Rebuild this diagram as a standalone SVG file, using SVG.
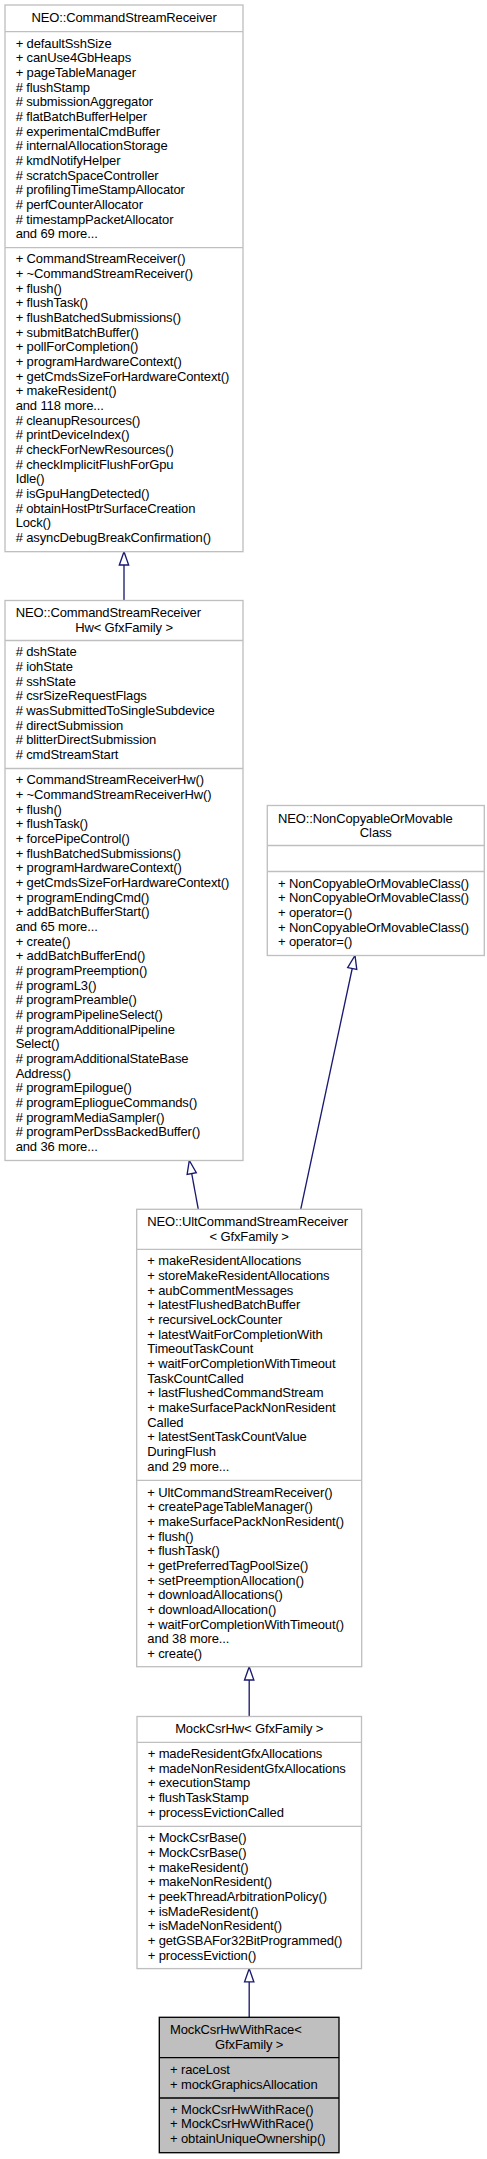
<svg xmlns="http://www.w3.org/2000/svg" width="487" height="2159" viewBox="0 0 487 2159">
<style>
text{font-family:"Liberation Sans",Arial,Helvetica,sans-serif;font-size:13px;letter-spacing:-0.13px;fill:#000}
.m{text-anchor:middle}
.box{fill:#fff;stroke:#bfbfbf;stroke-width:1.33}
.sep{stroke:#bfbfbf;stroke-width:1.33}
.hbox{fill:#bfbfbf;stroke:#000;stroke-width:1.33}
.hsep{stroke:#000;stroke-width:1.33}
.edge{stroke:#191970;stroke-width:1.33;fill:none}
</style>
<defs>
<marker id="tri" markerUnits="userSpaceOnUse" viewBox="-2 -7 17 14" refX="13.33" refY="0" markerWidth="17" markerHeight="14" orient="auto">
<path d="M0,-4.67 L13.33,0 L0,4.67 Z" fill="#fff" stroke="#191970" stroke-width="1.33"/>
</marker>
</defs>
<rect width="487" height="2159" fill="#fff"/>

<g id="connectors">
<path class="edge" d="M124,600.5 L124,551.67" marker-end="url(#tri)"/>
<path class="edge" d="M198.3,1209.3 L189.3,1160.5" marker-end="url(#tri)"/>
<path class="edge" d="M300.7,1209.3 L355,955.5" marker-end="url(#tri)"/>
<path class="edge" d="M249.2,1716.5 L249.2,1666.7" marker-end="url(#tri)"/>
<path class="edge" d="M249.2,2017.3 L249.2,1968.6" marker-end="url(#tri)"/>
</g>

<g id="csr">
<rect class="box" x="5" y="5" width="238" height="546.67"/>
<line class="sep" x1="5" y1="31.67" x2="243" y2="31.67"/>
<line class="sep" x1="5" y1="247.67" x2="243" y2="247.67"/>
<text class="m" x="124" y="21.5">NEO::CommandStreamReceiver</text>
<text x="15.67" y="47.5"><tspan x="15.67">+ defaultSshSize</tspan><tspan x="15.67" dy="14.667">+ canUse4GbHeaps</tspan><tspan x="15.67" dy="14.667">+ pageTableManager</tspan><tspan x="15.67" dy="14.667"># flushStamp</tspan><tspan x="15.67" dy="14.667"># submissionAggregator</tspan><tspan x="15.67" dy="14.667"># flatBatchBufferHelper</tspan><tspan x="15.67" dy="14.667"># experimentalCmdBuffer</tspan><tspan x="15.67" dy="14.667"># internalAllocationStorage</tspan><tspan x="15.67" dy="14.667"># kmdNotifyHelper</tspan><tspan x="15.67" dy="14.667"># scratchSpaceController</tspan><tspan x="15.67" dy="14.667"># profilingTimeStampAllocator</tspan><tspan x="15.67" dy="14.667"># perfCounterAllocator</tspan><tspan x="15.67" dy="14.667"># timestampPacketAllocator</tspan><tspan x="15.67" dy="14.667">and 69 more...</tspan></text>
<text x="15.67" y="263.3"><tspan x="15.67">+ CommandStreamReceiver()</tspan><tspan x="15.67" dy="14.667">+ ~CommandStreamReceiver()</tspan><tspan x="15.67" dy="14.667">+ flush()</tspan><tspan x="15.67" dy="14.667">+ flushTask()</tspan><tspan x="15.67" dy="14.667">+ flushBatchedSubmissions()</tspan><tspan x="15.67" dy="14.667">+ submitBatchBuffer()</tspan><tspan x="15.67" dy="14.667">+ pollForCompletion()</tspan><tspan x="15.67" dy="14.667">+ programHardwareContext()</tspan><tspan x="15.67" dy="14.667">+ getCmdsSizeForHardwareContext()</tspan><tspan x="15.67" dy="14.667">+ makeResident()</tspan><tspan x="15.67" dy="14.667">and 118 more...</tspan><tspan x="15.67" dy="14.667"># cleanupResources()</tspan><tspan x="15.67" dy="14.667"># printDeviceIndex()</tspan><tspan x="15.67" dy="14.667"># checkForNewResources()</tspan><tspan x="15.67" dy="14.667"># checkImplicitFlushForGpu</tspan><tspan x="15.67" dy="14.667">Idle()</tspan><tspan x="15.67" dy="14.667"># isGpuHangDetected()</tspan><tspan x="15.67" dy="14.667"># obtainHostPtrSurfaceCreation</tspan><tspan x="15.67" dy="14.667">Lock()</tspan><tspan x="15.67" dy="14.667"># asyncDebugBreakConfirmation()</tspan></text>
</g>

<g id="csrhw">
<rect class="box" x="5" y="600.5" width="238" height="560"/>
<line class="sep" x1="5" y1="640.5" x2="243" y2="640.5"/>
<line class="sep" x1="5" y1="768.5" x2="243" y2="768.5"/>
<text x="15.67" y="617">NEO::CommandStreamReceiver</text>
<text class="m" x="124" y="631.67">Hw&lt; GfxFamily &gt;</text>
<text x="15.67" y="656.3"><tspan x="15.67"># dshState</tspan><tspan x="15.67" dy="14.667"># iohState</tspan><tspan x="15.67" dy="14.667"># sshState</tspan><tspan x="15.67" dy="14.667"># csrSizeRequestFlags</tspan><tspan x="15.67" dy="14.667"># wasSubmittedToSingleSubdevice</tspan><tspan x="15.67" dy="14.667"># directSubmission</tspan><tspan x="15.67" dy="14.667"># blitterDirectSubmission</tspan><tspan x="15.67" dy="14.667"># cmdStreamStart</tspan></text>
<text x="15.67" y="784.4"><tspan x="15.67">+ CommandStreamReceiverHw()</tspan><tspan x="15.67" dy="14.667">+ ~CommandStreamReceiverHw()</tspan><tspan x="15.67" dy="14.667">+ flush()</tspan><tspan x="15.67" dy="14.667">+ flushTask()</tspan><tspan x="15.67" dy="14.667">+ forcePipeControl()</tspan><tspan x="15.67" dy="14.667">+ flushBatchedSubmissions()</tspan><tspan x="15.67" dy="14.667">+ programHardwareContext()</tspan><tspan x="15.67" dy="14.667">+ getCmdsSizeForHardwareContext()</tspan><tspan x="15.67" dy="14.667">+ programEndingCmd()</tspan><tspan x="15.67" dy="14.667">+ addBatchBufferStart()</tspan><tspan x="15.67" dy="14.667">and 65 more...</tspan><tspan x="15.67" dy="14.667">+ create()</tspan><tspan x="15.67" dy="14.667">+ addBatchBufferEnd()</tspan><tspan x="15.67" dy="14.667"># programPreemption()</tspan><tspan x="15.67" dy="14.667"># programL3()</tspan><tspan x="15.67" dy="14.667"># programPreamble()</tspan><tspan x="15.67" dy="14.667"># programPipelineSelect()</tspan><tspan x="15.67" dy="14.667"># programAdditionalPipeline</tspan><tspan x="15.67" dy="14.667">Select()</tspan><tspan x="15.67" dy="14.667"># programAdditionalStateBase</tspan><tspan x="15.67" dy="14.667">Address()</tspan><tspan x="15.67" dy="14.667"># programEpilogue()</tspan><tspan x="15.67" dy="14.667"># programEpliogueCommands()</tspan><tspan x="15.67" dy="14.667"># programMediaSampler()</tspan><tspan x="15.67" dy="14.667"># programPerDssBackedBuffer()</tspan><tspan x="15.67" dy="14.667">and 36 more...</tspan></text>
</g>

<g id="noncopyable">
<rect class="box" x="267.3" y="805.5" width="217" height="150"/>
<line class="sep" x1="267.3" y1="845.5" x2="484.3" y2="845.5"/>
<line class="sep" x1="267.3" y1="871.5" x2="484.3" y2="871.5"/>
<text x="278" y="822.5">NEO::NonCopyableOrMovable</text>
<text class="m" x="375.8" y="837">Class</text>
<text x="278" y="887.6"><tspan x="278">+ NonCopyableOrMovableClass()</tspan><tspan x="278" dy="14.667">+ NonCopyableOrMovableClass()</tspan><tspan x="278" dy="14.667">+ operator=()</tspan><tspan x="278" dy="14.667">+ NonCopyableOrMovableClass()</tspan><tspan x="278" dy="14.667">+ operator=()</tspan></text>
</g>

<g id="ultcsr">
<rect class="box" x="136.7" y="1209.3" width="225" height="457.4"/>
<line class="sep" x1="136.7" y1="1249.3" x2="361.7" y2="1249.3"/>
<line class="sep" x1="136.7" y1="1480.3" x2="361.7" y2="1480.3"/>
<text x="147.3" y="1226.2">NEO::UltCommandStreamReceiver</text>
<text class="m" x="249.2" y="1240.8">&lt; GfxFamily &gt;</text>
<text x="147.3" y="1265.3"><tspan x="147.3">+ makeResidentAllocations</tspan><tspan x="147.3" dy="14.667">+ storeMakeResidentAllocations</tspan><tspan x="147.3" dy="14.667">+ aubCommentMessages</tspan><tspan x="147.3" dy="14.667">+ latestFlushedBatchBuffer</tspan><tspan x="147.3" dy="14.667">+ recursiveLockCounter</tspan><tspan x="147.3" dy="14.667">+ latestWaitForCompletionWith</tspan><tspan x="147.3" dy="14.667">TimeoutTaskCount</tspan><tspan x="147.3" dy="14.667">+ waitForCompletionWithTimeout</tspan><tspan x="147.3" dy="14.667">TaskCountCalled</tspan><tspan x="147.3" dy="14.667">+ lastFlushedCommandStream</tspan><tspan x="147.3" dy="14.667">+ makeSurfacePackNonResident</tspan><tspan x="147.3" dy="14.667">Called</tspan><tspan x="147.3" dy="14.667">+ latestSentTaskCountValue</tspan><tspan x="147.3" dy="14.667">DuringFlush</tspan><tspan x="147.3" dy="14.667">and 29 more...</tspan></text>
<text x="147.3" y="1496.8"><tspan x="147.3">+ UltCommandStreamReceiver()</tspan><tspan x="147.3" dy="14.667">+ createPageTableManager()</tspan><tspan x="147.3" dy="14.667">+ makeSurfacePackNonResident()</tspan><tspan x="147.3" dy="14.667">+ flush()</tspan><tspan x="147.3" dy="14.667">+ flushTask()</tspan><tspan x="147.3" dy="14.667">+ getPreferredTagPoolSize()</tspan><tspan x="147.3" dy="14.667">+ setPreemptionAllocation()</tspan><tspan x="147.3" dy="14.667">+ downloadAllocations()</tspan><tspan x="147.3" dy="14.667">+ downloadAllocation()</tspan><tspan x="147.3" dy="14.667">+ waitForCompletionWithTimeout()</tspan><tspan x="147.3" dy="14.667">and 38 more...</tspan><tspan x="147.3" dy="14.667">+ create()</tspan></text>
</g>

<g id="mockcsrhw">
<rect class="box" x="137" y="1716.5" width="224.5" height="252.1"/>
<line class="sep" x1="137" y1="1742.3" x2="361.5" y2="1742.3"/>
<line class="sep" x1="137" y1="1826.3" x2="361.5" y2="1826.3"/>
<text class="m" x="249.2" y="1733.4">MockCsrHw&lt; GfxFamily &gt;</text>
<text x="147.7" y="1758.1"><tspan x="147.7">+ madeResidentGfxAllocations</tspan><tspan x="147.7" dy="14.667">+ madeNonResidentGfxAllocations</tspan><tspan x="147.7" dy="14.667">+ executionStamp</tspan><tspan x="147.7" dy="14.667">+ flushTaskStamp</tspan><tspan x="147.7" dy="14.667">+ processEvictionCalled</tspan></text>
<text x="147.7" y="1842.2"><tspan x="147.7">+ MockCsrBase()</tspan><tspan x="147.7" dy="14.667">+ MockCsrBase()</tspan><tspan x="147.7" dy="14.667">+ makeResident()</tspan><tspan x="147.7" dy="14.667">+ makeNonResident()</tspan><tspan x="147.7" dy="14.667">+ peekThreadArbitrationPolicy()</tspan><tspan x="147.7" dy="14.667">+ isMadeResident()</tspan><tspan x="147.7" dy="14.667">+ isMadeNonResident()</tspan><tspan x="147.7" dy="14.667">+ getGSBAFor32BitProgrammed()</tspan><tspan x="147.7" dy="14.667">+ processEviction()</tspan></text>
</g>

<g id="mockcsrhwwithrace">
<rect class="hbox" x="159.3" y="2017.3" width="179.7" height="135.4"/>
<line class="hsep" x1="159.3" y1="2057.7" x2="339" y2="2057.7"/>
<line class="hsep" x1="159.3" y1="2098" x2="339" y2="2098"/>
<text x="170" y="2034.4">MockCsrHwWithRace&lt;</text>
<text class="m" x="249.2" y="2049">GfxFamily &gt;</text>
<text x="170" y="2074"><tspan x="170">+ raceLost</tspan><tspan x="170" dy="14.667">+ mockGraphicsAllocation</tspan></text>
<text x="170" y="2113.8"><tspan x="170">+ MockCsrHwWithRace()</tspan><tspan x="170" dy="14.667">+ MockCsrHwWithRace()</tspan><tspan x="170" dy="14.667">+ obtainUniqueOwnership()</tspan></text>
</g>
</svg>
